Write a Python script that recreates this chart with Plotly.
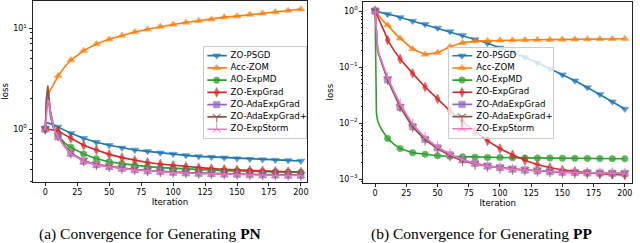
import plotly.graph_objects as go

# ---------------- data ----------------
ITER = [0, 1, 2, 3, 4, 6, 8, 10, 15, 20, 30, 40, 50, 60, 70, 80, 90, 100,
        110, 120, 130, 140, 150, 160, 170, 180, 190, 200]

METHODS = ["ZO-PSGD", "Acc-ZOM", "AO-ExpMD", "ZO-ExpGrad",
           "ZO-AdaExpGrad", "ZO-AdaExpGrad+", "ZO-ExpStorm"]

# (a) Generating PN
pn_psgd = [1.0, 1.15, 1.15, 1.14, 1.13, 1.11, 1.08, 1.05, 0.97, 0.906, 0.81, 0.74, 0.69, 0.65,
           0.62, 0.60, 0.58, 0.565, 0.547, 0.535, 0.527, 0.519, 0.51, 0.503, 0.497, 0.492, 0.488, 0.482]
pn_acc = [1.0, 1.7, 2.1, 2.3, 2.45, 2.7, 3.0, 3.36, 4.1, 4.84, 6.0, 6.98, 7.77, 8.5,
          9.2, 9.77, 10.4, 10.9, 11.4, 11.9, 12.3, 12.9, 13.2, 13.7, 14.1, 14.5, 15.0, 15.5]
pn_aoexpmd = [1.0, 2.0, 2.45, 1.9, 1.5, 1.15, 0.95, 0.87, 0.73, 0.66, 0.565, 0.507, 0.473, 0.453,
              0.436, 0.423, 0.414, 0.407, 0.401, 0.395, 0.39, 0.386, 0.383, 0.38, 0.377, 0.375, 0.373, 0.371]
pn_expgrad = [1.0, 1.0, 1.0, 0.99, 0.99, 0.98, 0.97, 0.96, 0.88, 0.81, 0.69, 0.62, 0.56, 0.52,
              0.489, 0.466, 0.449, 0.436, 0.423, 0.413, 0.404, 0.398, 0.392, 0.388, 0.384, 0.38, 0.377, 0.374]
pn_ada = [1.0, 1.8, 2.2, 1.7, 1.35, 1.05, 0.92, 0.84, 0.68, 0.573, 0.48, 0.442, 0.423, 0.407,
          0.395, 0.385, 0.378, 0.371, 0.367, 0.363, 0.36, 0.357, 0.355, 0.353, 0.351, 0.35, 0.348, 0.347]
pn_adaplus = [1.0, 2.1, 2.7, 2.0, 1.5, 1.1, 0.95, 0.86, 0.69, 0.58, 0.485, 0.445, 0.425, 0.409,
              0.397, 0.387, 0.38, 0.373, 0.369, 0.365, 0.362, 0.359, 0.357, 0.355, 0.353, 0.352, 0.35, 0.349]
pn_storm = [1.0, 1.6, 1.95, 1.9, 1.5, 1.1, 0.93, 0.83, 0.67, 0.57, 0.478, 0.44, 0.421, 0.405,
            0.393, 0.383, 0.376, 0.37, 0.366, 0.362, 0.359, 0.356, 0.354, 0.352, 0.35, 0.349, 0.347, 0.346]

# (b) Generating PP
pp_psgd = [1.0, 0.99, 0.975, 0.96, 0.95, 0.93, 0.91, 0.88, 0.83, 0.77, 0.66, 0.58, 0.50, 0.43,
           0.37, 0.31, 0.265, 0.22, 0.185, 0.149, 0.119, 0.093, 0.073, 0.057, 0.043, 0.0325, 0.024, 0.0178]
pp_acc = [1.0, 0.93, 0.87, 0.81, 0.76, 0.68, 0.61, 0.56, 0.42, 0.325, 0.21, 0.168, 0.18, 0.23,
          0.27, 0.29, 0.295, 0.30, 0.302, 0.304, 0.306, 0.308, 0.31, 0.312, 0.314, 0.316, 0.318, 0.32]
pp_aoexpmd = [1.0, 0.015, 0.011, 0.0095, 0.0085, 0.0072, 0.0061, 0.0053, 0.0042, 0.0035, 0.00295,
              0.00276, 0.0026, 0.00254, 0.0025, 0.00245, 0.00243, 0.00241, 0.0024, 0.00238, 0.00237,
              0.00236, 0.00235, 0.00234, 0.00233, 0.00232, 0.00231, 0.0023]
pp_expgrad = [1.0, 0.88, 0.78, 0.69, 0.62, 0.50, 0.40, 0.303, 0.20, 0.139, 0.077, 0.044, 0.027, 0.0164,
              0.0106, 0.007, 0.0048, 0.0035, 0.0027, 0.00216, 0.0018, 0.0016, 0.00145, 0.00137, 0.0013,
              0.00124, 0.00121, 0.00118]
pp_ada = [1.0, 0.35, 0.2, 0.165, 0.14, 0.105, 0.08, 0.059, 0.033, 0.019, 0.0086, 0.0051, 0.0036, 0.0027,
          0.0022, 0.0019, 0.0017, 0.0016, 0.0015, 0.00145, 0.0014, 0.00135, 0.00132, 0.0013, 0.00129,
          0.00128, 0.00127, 0.00126]
pp_adaplus = [1.0, 0.34, 0.2, 0.165, 0.14, 0.105, 0.08, 0.06, 0.034, 0.0195, 0.0085, 0.005, 0.0035, 0.0026,
              0.0021, 0.00185, 0.0017, 0.00158, 0.0015, 0.00145, 0.0014, 0.00136, 0.00133, 0.0013, 0.00128,
              0.00127, 0.00126, 0.00125]
pp_storm = [1.0, 0.36, 0.21, 0.175, 0.15, 0.112, 0.086, 0.065, 0.037, 0.022, 0.0095, 0.0055, 0.0037, 0.0028,
            0.0022, 0.0019, 0.0017, 0.00158, 0.0015, 0.00145, 0.0014, 0.00136, 0.00133, 0.00131, 0.00129,
            0.00128, 0.00127, 0.00126]

PN = [pn_psgd, pn_acc, pn_aoexpmd, pn_expgrad, pn_ada, pn_adaplus, pn_storm]
PP = [pp_psgd, pp_acc, pp_aoexpmd, pp_expgrad, pp_ada, pp_adaplus, pp_storm]

PN_TICKVALS = [1, 10]
PN_TICKTEXT = ["10<sup>0</sup>", "10<sup>1</sup>"]
PP_TICKVALS = [0.001, 0.01, 0.1, 1]
PP_TICKTEXT = ["10<sup>\u22123</sup>", "10<sup>\u22122</sup>", "10<sup>\u22121</sup>", "10<sup>0</sup>"]
X_TICKS = [0, 25, 50, 75, 100, 125, 150, 175, 200]

CAPTIONS = ["(a) Convergence for Generating <b>PN</b>", "(b) Convergence for Generating <b>PP</b>"]

# ---------------- style ----------------
COLORS = ["#1f77b4", "#ff7f0e", "#2ca02c", "#d62728", "#9467bd", "#8c564b", "#e377c2"]
SYMBOLS = ["triangle-down", "triangle-up", "circle", "diamond-tall", "square", "y-down-open", "y-up-open"]
SIZES = [7, 7, 6.5, 7, 6.5, 7, 7]
FONT = "DejaVu Sans"
W, H = 640, 243


def px_x(a, b):
    return [a / W, b / W]


def px_y(top, bottom):
    return [1 - bottom / H, 1 - top / H]


fig = go.Figure()

panels = [
    dict(data=PN, xa="x", ya="y"),
    dict(data=PP, xa="x2", ya="y2"),
]

for p in panels:
    for i, (name, ys) in enumerate(zip(METHODS, p["data"])):
        fig.add_trace(go.Scatter(
            x=ITER, y=ys, mode="lines", xaxis=p["xa"], yaxis=p["ya"],
            line=dict(color=COLORS[i], width=1.6), showlegend=False, hoverinfo="skip"))
        mx = [x for x in ITER if x % 10 == 0]
        my = [y for x, y in zip(ITER, ys) if x % 10 == 0]
        open_sym = SYMBOLS[i].endswith("open")
        fig.add_trace(go.Scatter(
            x=mx, y=my, mode="markers", xaxis=p["xa"], yaxis=p["ya"],
            marker=dict(symbol=SYMBOLS[i], size=SIZES[i], color=COLORS[i], opacity=0.75,
                        line=dict(color=COLORS[i], width=1.2 if open_sym else 0.6)),
            showlegend=False, hoverinfo="skip"))

# ---------------- custom legends (own axes, slot per method) ----------------
LEG_LINE = [0.033, 0.224]
LEG_MARK = 0.125
LEG_TEXT = 0.262
for xa, ya in [("x3", "y3"), ("x4", "y4")]:
    for i, name in enumerate(METHODS):
        fig.add_trace(go.Scatter(x=LEG_LINE, y=[i, i], mode="lines", xaxis=xa, yaxis=ya,
                                 line=dict(color=COLORS[i], width=1.6), showlegend=False, hoverinfo="skip"))
        open_sym = SYMBOLS[i].endswith("open")
        fig.add_trace(go.Scatter(x=[LEG_MARK], y=[i], mode="markers", xaxis=xa, yaxis=ya,
                                 marker=dict(symbol=SYMBOLS[i], size=SIZES[i], color=COLORS[i], opacity=0.75,
                                             line=dict(color=COLORS[i], width=1.2 if open_sym else 0.6)),
                                 showlegend=False, hoverinfo="skip"))
        fig.add_trace(go.Scatter(x=[LEG_TEXT], y=[i], mode="text", text=[name], xaxis=xa, yaxis=ya,
                                 textposition="middle right", cliponaxis=False,
                                 textfont=dict(family=FONT, size=8.6, color="black"),
                                 showlegend=False, hoverinfo="skip"))

axis_common = dict(showline=True, mirror=True, linecolor="#222", linewidth=1, ticks="outside",
                   ticklen=3, tickwidth=0.8, tickcolor="#222", showgrid=False, zeroline=False,
                   tickfont=dict(family=FONT, size=8, color="black"))

xa_common = dict(axis_common, tickvals=X_TICKS,
                 title=dict(text="Iteration", font=dict(family=FONT, size=8.6, color="black"), standoff=2))

minor = dict(ticks="outside", ticklen=1.8, tickwidth=0.6, tickcolor="#222", dtick="D1", showgrid=False)

leg_axis = dict(showline=True, mirror=True, linecolor="#cccccc", linewidth=1, showticklabels=False,
                ticks="", showgrid=False, zeroline=False, fixedrange=True)

fig.update_layout(
    width=W, height=H,
    margin=dict(l=0, r=0, t=0, b=0),
    paper_bgcolor="white",
    plot_bgcolor="rgba(255,255,255,0.8)",
    font=dict(family=FONT, color="black"),
    showlegend=False,
    xaxis=dict(xa_common, domain=px_x(32.5, 307.3), range=[-10, 205], anchor="y"),
    yaxis=dict(axis_common, type="log", domain=px_y(1, 181.7), range=[-0.523, 1.271],
               tickvals=PN_TICKVALS, ticktext=PN_TICKTEXT, minor=minor, anchor="x",
               title=dict(text="loss", font=dict(family=FONT, size=8.6, color="black"), standoff=4)),
    xaxis2=dict(xa_common, domain=px_x(363.3, 632.3), range=[-9.5, 206], anchor="y2"),
    yaxis2=dict(axis_common, type="log", domain=px_y(1.5, 182.7), range=[-3.066, 0.17],
                tickvals=PP_TICKVALS, ticktext=PP_TICKTEXT, minor=minor, anchor="x2",
                title=dict(text="loss", font=dict(family=FONT, size=8.6, color="black"), standoff=4)),
    xaxis3=dict(leg_axis, domain=px_x(204, 305.5), range=[0, 1], anchor="y3"),
    yaxis3=dict(leg_axis, domain=px_y(47.3, 138), range=[6.72, -0.68], anchor="x3"),
    xaxis4=dict(leg_axis, domain=px_x(449, 553), range=[0, 1], anchor="y4"),
    yaxis4=dict(leg_axis, domain=px_y(47.5, 137.5), range=[6.72, -0.68], anchor="x4"),
)

for cx, txt in zip([150, 481], CAPTIONS):
    fig.add_annotation(x=cx / W, y=1 - 234 / H, xref="paper", yref="paper", text=txt, showarrow=False,
                       xanchor="center", yanchor="middle",
                       font=dict(family="Liberation Serif", size=15.5, color="black"))

fig.write_html("out.html", config={"displayModeBar": False},
               post_script="document.body.style.margin='0';document.body.style.padding='0';")
